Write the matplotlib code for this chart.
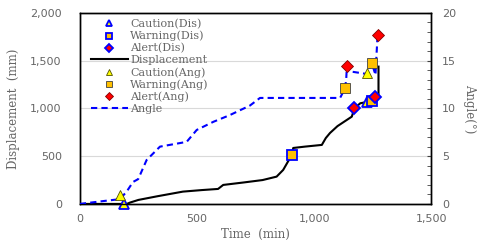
import matplotlib
matplotlib.use('Agg')
import matplotlib.pyplot as plt
from matplotlib.ticker import MultipleLocator, FuncFormatter

# Displacement curve (time in min, displacement in mm)
disp_time = [0, 200, 215, 250, 330, 440, 520, 590, 612, 700, 780, 840, 868, 890, 905, 911,
             960, 1033, 1050, 1068, 1100, 1140, 1161, 1172, 1197, 1232, 1253, 1262, 1275, 1275]
disp_mm = [0, 0, 15, 42, 80, 129, 145, 157, 199, 225, 250, 286, 356, 450, 513, 586,
           600, 618, 690, 743, 815, 880, 914, 1000, 1054, 1071, 1085, 1110, 1120, 1438]

# Angle curve (time in min, angle in degrees)
ang_time = [0, 100, 171, 200, 227, 249, 285, 342, 456, 499, 570, 640, 726, 769, 900, 1111,
            1132, 1137, 1140, 1147, 1228, 1246, 1262, 1271]
ang_deg = [0, 0.3, 0.5, 1.3, 2.3, 2.6, 4.6, 6.0, 6.5, 7.75, 8.6, 9.3, 10.3, 11.1, 11.1, 11.1,
           12.1, 13.0, 14.4, 13.9, 13.6, 14.8, 13.5, 17.7]

# Alarm points
caution_dis_t, caution_dis_v = [188, 1228], [0, 1071]
warning_dis_t, warning_dis_v = [905, 1246], [513, 1082]
alert_dis_t, alert_dis_v = [1172, 1261], [1000, 1117]
caution_ang_t, caution_ang_v = [171, 1228], [0.9, 13.7]
warning_ang_t, warning_ang_v = [1132, 1246], [12.1, 14.8]
alert_ang_t, alert_ang_v = [1140, 1271], [14.4, 17.7]

gray = '#666666'
serif = 'DejaVu Serif'

fig = plt.figure(figsize=(4.9, 2.49), dpi=100)
ax = fig.add_axes([0.163, 0.181, 0.717, 0.767])
ax2 = ax.twinx()

ax.set_xlim(0, 1500)
ax.set_ylim(0, 2000)
ax2.set_ylim(0, 20)

ax.yaxis.set_major_locator(MultipleLocator(500))
ax.xaxis.set_major_locator(MultipleLocator(500))
ax2.yaxis.set_major_locator(MultipleLocator(5))
ax2.yaxis.set_minor_locator(MultipleLocator(1))
comma = FuncFormatter(lambda v, p: f'{int(v):,}')
ax.xaxis.set_major_formatter(comma)
ax.yaxis.set_major_formatter(comma)

ax.grid(axis='y', color='#d9d9d9', linewidth=0.8)
ax.set_axisbelow(True)

ax.tick_params(axis='y', length=0, labelsize=8, labelcolor=gray, pad=13)
ax.tick_params(axis='x', length=0, labelsize=8, labelcolor=gray, pad=7)
ax2.tick_params(axis='y', which='both', direction='in', length=3, color='#404040',
                labelsize=8, labelcolor=gray, pad=8)
for a in (ax, ax2):
    for s in a.spines.values():
        s.set_color('black')
        s.set_linewidth(1.0)

ms = 6.5
# displacement axis
l_disp, = ax.plot(disp_time, disp_mm, color='black', linewidth=1.5, label='Displacement', zorder=3)
h_cd, = ax.plot(caution_dis_t, caution_dis_v, linestyle='none', marker='^', ms=ms + 1,
                mfc='#ffff00', mec='#0000ff', mew=1.3, label='Caution(Dis)', zorder=4, clip_on=False)
h_wd, = ax.plot(warning_dis_t, warning_dis_v, linestyle='none', marker='s', ms=ms,
                mfc='#ffc000', mec='#0000ff', mew=1.3, label='Warning(Dis)', zorder=4)
h_ad, = ax.plot(alert_dis_t, alert_dis_v, linestyle='none', marker='D', ms=ms - 0.5,
                mfc='#ff0000', mec='#0000ff', mew=1.3, label='Alert(Dis)', zorder=4)

# angle axis
l_ang, = ax2.plot(ang_time, ang_deg, color='#0000ff', linewidth=1.5, linestyle=(0, (3, 2)),
                  label='Angle', zorder=3)
h_ca, = ax2.plot(caution_ang_t, caution_ang_v, linestyle='none', marker='^', ms=ms + 1,
                 mfc='#ffff00', mec='#505000', mew=0.6, label='Caution(Ang)', zorder=4)
h_wa, = ax2.plot(warning_ang_t, warning_ang_v, linestyle='none', marker='s', ms=ms,
                 mfc='#ffc000', mec='#404040', mew=0.6, label='Warning(Ang)', zorder=4)
h_aa, = ax2.plot(alert_ang_t, alert_ang_v, linestyle='none', marker='D', ms=ms - 0.5,
                 mfc='#ff0000', mec='#800000', mew=0.6, label='Alert(Ang)', zorder=4)

ax.set_xlabel('Time  (min)', fontfamily=serif, fontsize=8.5, color=gray, labelpad=3)
ax.set_ylabel('Displacement  (mm)', fontfamily=serif, fontsize=8.5, color=gray, labelpad=7)
ax2.set_ylabel('Angle(°)', fontfamily=serif, fontsize=8.5, color=gray, rotation=270, labelpad=14)

handles = [h_cd, h_wd, h_ad, l_disp, h_ca, h_wa, h_aa, l_ang]
leg = ax2.legend(handles=handles, loc='upper left', bbox_to_anchor=(0.01, 1.01),
                 frameon=False, markerscale=0.65, handlelength=3.3, handletextpad=0.2,
                 labelspacing=0.16, borderpad=0.2, prop={'family': serif, 'size': 8})
for t in leg.get_texts():
    t.set_color(gray)

fig.savefig('out.png', dpi=100)
